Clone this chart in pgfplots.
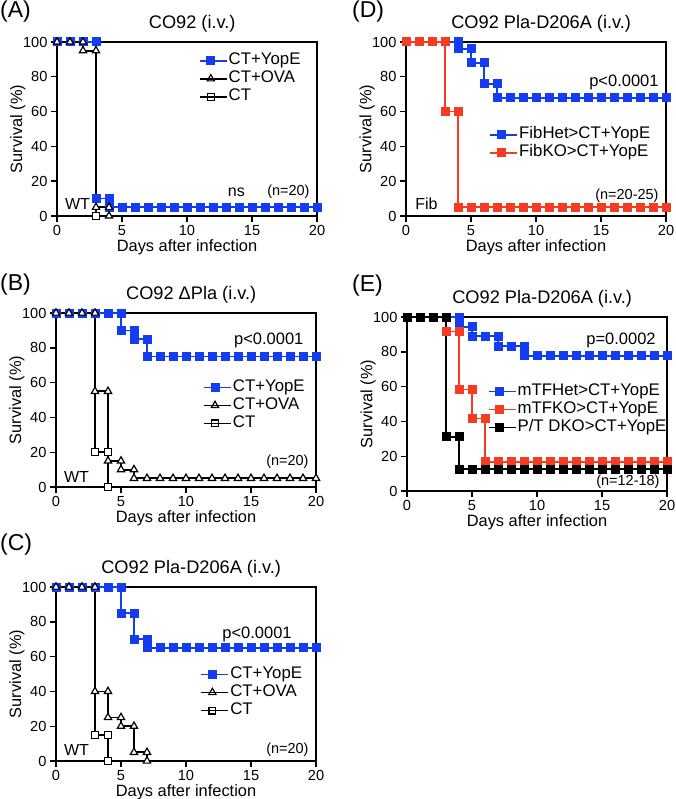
\documentclass[border=0pt]{standalone}
\usepackage{fontspec}
\setmainfont{Liberation Sans}
\usepackage{pgfplots}
\pgfplotsset{compat=1.18}
\definecolor{pblue}{RGB}{20,60,240}
\definecolor{pred}{RGB}{245,60,35}
\newcommand{\fs}[1]{\fontsize{#1}{#1}\selectfont}

\pgfplotsset{
  panel/.style={
    scale only axis, width=260pt, height=174pt,
    xmin=0,xmax=20,ymin=0,ymax=100,
    xtick={0,5,10,15,20}, ytick={0,20,40,60,80,100},
    tick align=outside, tick pos=left,
    major tick length=6pt,
    axis line style={line width=1.4pt},
    every tick/.style={black,line width=1.4pt},
    /pgf/number format/assume math mode=true,
    tick label style={font=\fs{14.6}},
    xlabel={Days after infection}, ylabel={Survival (\%)},
    every axis y label/.style={at={(axis description cs:-0.15,0.5)},rotate=90,anchor=center,font=\fs{16.4}},
    every axis x label/.style={at={(axis description cs:0.5,-0.182)},anchor=center,font=\fs{16.4}},
    title style={font=\fs{18.2}, at={(axis description cs:0.52,1.07)},anchor=center,yshift=0pt},
    clip=false,
    legend cell align=left,
    legend style={draw=none,fill=none,font=\fs{16.8},inner sep=0pt,
       nodes={inner sep=1pt,text height=12pt,text depth=4pt}, anchor=north west,row sep=0pt},
    legend image code/.code={\draw[mark repeat=2,mark phase=2,##1] plot coordinates {(0pt,0pt) (11pt,0pt) (22pt,0pt)}; \path (0pt,0pt) -- (27pt,0pt);},
  },
  yopE/.style={pblue, line width=1.8pt, mark=square*, mark size=3.6pt, mark options={solid,fill=pblue}},
  redl/.style={pred, line width=1.8pt, mark=square*, mark size=3.6pt, mark options={solid,fill=pred}},
  blkl/.style={black, line width=1.8pt, mark=square*, mark size=3.6pt, mark options={solid,fill=black}},
  ova/.style={black, line width=1.8pt, mark=triangle*, mark size=4.2pt, mark options={solid,fill=white, line width=1.2pt}},
  ct/.style={black, line width=1.8pt, mark=square*, mark size=3.4pt, mark options={solid,fill=white,line width=1.2pt}},
}

\begin{document}
\begin{tikzpicture}
\path[use as bounding box] (0,0) rectangle (675pt,-799pt);

% Panel labels
\node[anchor=west,inner sep=0pt,font=\fs{23}] at (0pt,-12pt) {(A)};
\node[anchor=west,inner sep=0pt,font=\fs{23}] at (352pt,-12pt) {(D)};
\node[anchor=west,inner sep=0pt,font=\fs{23}] at (0pt,-285pt) {(B)};
\node[anchor=west,inner sep=0pt,font=\fs{23}] at (352pt,-286pt) {(E)};
\node[anchor=west,inner sep=0pt,font=\fs{23}] at (0pt,-545pt) {(C)};

% ---------------- (A)
\begin{axis}[panel, at={(57pt,-42pt)}, anchor=north west,
  title={CO92 (i.v.)},
  legend style={at={(0.545,0.945)}}]
\addplot[ct, forget plot] coordinates {(0,100)(1,100)(2,100)(3,100)(3,0)};
\addplot[yopE] coordinates {(0,100)(1,100)(2,100)(3,100)(3,10)(4,10)(4,5)(5,5)(6,5)(7,5)(8,5)(9,5)(10,5)(11,5)(12,5)(13,5)(14,5)(15,5)(16,5)(17,5)(18,5)(19,5)(20,5)};
\addplot[ova] coordinates {(0,100)(1,100)(2,100)(2,95)(3,95)(3,5)(4,5)(4,0)};
\addlegendimage{ct}
\legend{CT+YopE,CT+OVA,CT}
\node[anchor=west,font=\fs{16}] at (axis cs:0.35,6.9) {WT};
\node[anchor=center,font=\fs{16}] at (axis cs:13.8,13.7) {ns};
\node[anchor=east,font=\fs{14.5}] at (axis cs:19.7,13.7) {(n=20)};
\end{axis}

% ---------------- (D)
\begin{axis}[panel, at={(406pt,-42pt)}, anchor=north west,
  title={CO92 Pla-D206A (i.v.)},
  legend style={at={(0.32,0.52)}}]
\addplot[yopE] coordinates {(0,100)(1,100)(2,100)(3,100)(4,100)(4,96)(5,96)(5,88)(6,88)(6,76)(7,76)(7,68)(8,68)(9,68)(10,68)(11,68)(12,68)(13,68)(14,68)(15,68)(16,68)(17,68)(18,68)(19,68)(20,68)};
\addplot[redl] coordinates {(0,100)(1,100)(2,100)(3,100)(3,60)(4,60)(4,5)(5,5)(6,5)(7,5)(8,5)(9,5)(10,5)(11,5)(12,5)(13,5)(14,5)(15,5)(16,5)(17,5)(18,5)(19,5)(20,5)};
\legend{FibHet>CT+YopE,FibKO>CT+YopE}
\node[anchor=west,font=\fs{16}] at (axis cs:0.45,6.9) {Fib};
\node[anchor=east,font=\fs{16.5}] at (axis cs:19.7,77) {p<0.0001};
\node[anchor=east,font=\fs{14.5}] at (axis cs:19.7,11.4) {(n=20-25)};
\end{axis}

% ---------------- (B)
\begin{axis}[panel, at={(56pt,-313pt)}, anchor=north west,
  title={CO92 ΔPla (i.v.)},
  legend style={at={(0.565,0.625)}}]
\addplot[ct, forget plot] coordinates {(0,100)(1,100)(2,100)(3,100)(3,20)(4,20)(4,0)};
\addplot[yopE] coordinates {(0,100)(1,100)(2,100)(3,100)(4,100)(5,100)(5,90)(6,90)(6,85)(7,85)(7,75)(8,75)(9,75)(10,75)(11,75)(12,75)(13,75)(14,75)(15,75)(16,75)(17,75)(18,75)(19,75)(20,75)};
\addplot[ova] coordinates {(0,100)(1,100)(2,100)(3,100)(3,55)(4,55)(4,15)(5,15)(5,10)(6,10)(6,5)(7,5)(8,5)(9,5)(10,5)(11,5)(12,5)(13,5)(14,5)(15,5)(16,5)(17,5)(18,5)(19,5)(20,5)};
\addlegendimage{ct}
\legend{CT+YopE,CT+OVA,CT}
\node[anchor=west,font=\fs{16}] at (axis cs:0.35,5.9) {WT};
\node[anchor=east,font=\fs{16.5}] at (axis cs:19.3,84.5) {p<0.0001};
\node[anchor=east,font=\fs{14.5}] at (axis cs:19.7,14.4) {(n=20)};
\end{axis}

% ---------------- (E)
\begin{axis}[panel, at={(407pt,-317pt)}, anchor=north west,
  title={CO92 Pla-D206A (i.v.)},
  legend style={at={(0.31,0.625)}}]
\addplot[yopE] coordinates {(0,100)(1,100)(2,100)(3,100)(4,100)(4,94.4)(5,94.4)(5,88.9)(6,88.9)(7,88.9)(7,83.3)(8,83.3)(9,83.3)(9,77.8)(10,77.8)(11,77.8)(12,77.8)(13,77.8)(14,77.8)(15,77.8)(16,77.8)(17,77.8)(18,77.8)(19,77.8)(20,77.8)};
\addplot[redl] coordinates {(0,100)(1,100)(2,100)(3,100)(3,91.7)(4,91.7)(4,58.3)(5,58.3)(5,41.7)(6,41.7)(6,16.7)(7,16.7)(8,16.7)(9,16.7)(10,16.7)(11,16.7)(12,16.7)(13,16.7)(14,16.7)(15,16.7)(16,16.7)(17,16.7)(18,16.7)(19,16.7)(20,16.7)};
\addplot[blkl] coordinates {(0,100)(1,100)(2,100)(3,100)(3,31.25)(4,31.25)(4,12.5)(5,12.5)(6,12.5)(7,12.5)(8,12.5)(9,12.5)(10,12.5)(11,12.5)(12,12.5)(13,12.5)(14,12.5)(15,12.5)(16,12.5)(17,12.5)(18,12.5)(19,12.5)(20,12.5)};
\legend{mTFHet>CT+YopE,mTFKO>CT+YopE,P/T DKO>CT+YopE}
\node[anchor=east,font=\fs{16.5}] at (axis cs:19.4,86.7) {p=0.0002};
\node[anchor=east,font=\fs{14.5}] at (axis cs:19.7,5.2) {(n=12-18)};
\end{axis}

% ---------------- (C)
\begin{axis}[panel, at={(56pt,-587pt)}, anchor=north west,
  title={CO92 Pla-D206A (i.v.)},
  legend style={at={(0.555,0.55)}}]
\addplot[ct, forget plot] coordinates {(0,100)(1,100)(2,100)(3,100)(3,15)(4,15)(4,0)};
\addplot[yopE] coordinates {(0,100)(1,100)(2,100)(3,100)(4,100)(5,100)(5,85)(6,85)(6,70)(7,70)(7,65)(8,65)(9,65)(10,65)(11,65)(12,65)(13,65)(14,65)(15,65)(16,65)(17,65)(18,65)(19,65)(20,65)};
\addplot[ova] coordinates {(0,100)(1,100)(2,100)(3,100)(3,40)(4,40)(4,25)(5,25)(5,20)(6,20)(6,5)(7,5)(7,0)};
\addlegendimage{ct}
\legend{CT+YopE,CT+OVA,CT}
\node[anchor=west,font=\fs{16}] at (axis cs:0.35,6.4) {WT};
\node[anchor=east,font=\fs{16.5}] at (axis cs:18.4,73) {p<0.0001};
\node[anchor=east,font=\fs{14.5}] at (axis cs:19.7,6.4) {(n=20)};
\end{axis}
\end{tikzpicture}
\end{document}
